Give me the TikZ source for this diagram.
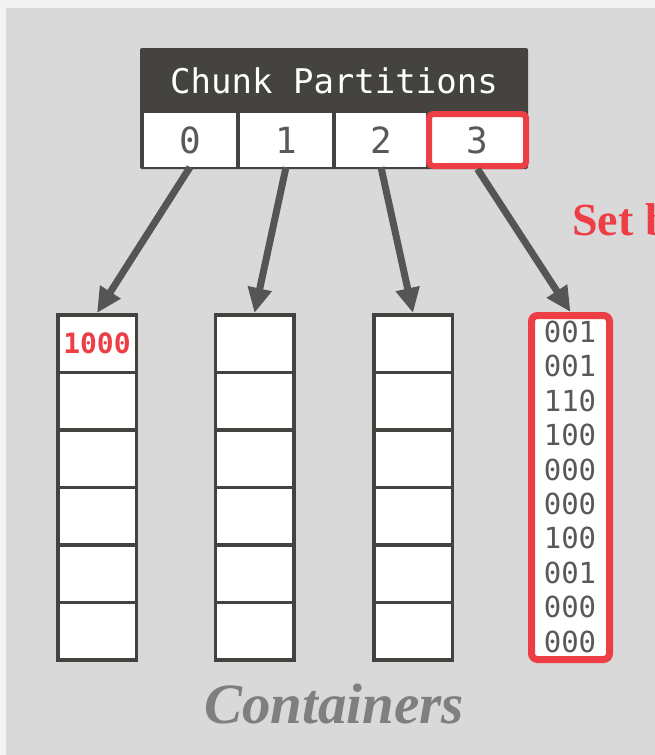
\documentclass[tikz,border=0pt]{standalone}
\usepackage{fontspec}
\setmainfont{Liberation Serif}
\setmonofont{DejaVu Sans Mono}
\usetikzlibrary{arrows.meta}
\definecolor{outerbg}{HTML}{F3F3F3}
\definecolor{panel}{HTML}{D9D9D9}
\definecolor{dark}{HTML}{45433F}
\definecolor{txtgray}{HTML}{595959}
\definecolor{arrgray}{HTML}{555555}
\definecolor{hired}{HTML}{EE3E45}
\definecolor{capgray}{HTML}{7F7F7F}
\tikzset{
  pcell/.style={fill=white, draw=none, minimum width=92pt, minimum height=54pt, inner sep=0pt,
    text=txtgray, font=\ttfamily\fontsize{36}{40}\selectfont},
  ccell/.style={fill=white, draw=dark, line width=3.5pt, minimum width=78.5pt, minimum height=57.58pt, inner sep=0pt},
  arr/.style={draw=arrgray, line width=7pt, -{Triangle[width=23pt,length=25pt]}},
  bits/.style={text=txtgray, font=\ttfamily\fontsize{29}{34}\selectfont, inner sep=0pt}
}
\begin{document}
\begin{tikzpicture}[x=1pt,y=-1pt]
\useasboundingbox (0,0) rectangle (655,755);
\clip (0,0) rectangle (655,755);
\fill[outerbg] (0,0) rectangle (655,755);
\fill[panel] (6,8) rectangle (660,760);
% header
\path[fill=dark, rounded corners=2pt] (140,48) rectangle (528,169);
\node[text=white, font=\ttfamily\fontsize{34}{40}\selectfont] (hdr) at (334,80.5) {Chunk Partitions};
\node[pcell, minimum width=92pt] (c0) at (190,140) {0};
\node[pcell, minimum width=92pt] (c1) at (286,140) {1};
\node[pcell, minimum width=90pt] (c2) at (381,140) {2};
\node[pcell, draw=hired, line width=6pt, rounded corners=4pt, minimum width=97pt, minimum height=52pt] (c3) at (477.5,140) {3};
% containers
\foreach \cx/\nm in {97/a, 254.5/b, 413/d}{
  \foreach \i in {0,...,5}{
    \node[ccell] (\nm\i) at (\cx, 343.54+57.58*\i) {};
  }
}
\node[text=hired, font=\ttfamily\bfseries\fontsize{28}{32}\selectfont, inner sep=0pt] (t1000) at (a0.center) {1000};
% red container
\node[fill=white, draw=hired, line width=7pt, rounded corners=6pt, minimum width=78pt, minimum height=344pt, inner sep=0pt] (r) at (570.5,487.5) {};
\foreach \v [count=\k from 0] in {001,001,110,100,000,000,100,001,000,000}{
  \node[bits] (n\k) at (570, 332+34.4*\k) {\v};
}
% arrows
\draw[arr] (c0.south) -- (a0.north);
\draw[arr] (c1.south) -- (b0.north);
\draw[arr] (c2.south) -- (d0.north);
\draw[arr] (c3.south) -- (r.north);
% labels
\node[anchor=base west, text=hired, font=\bfseries\fontsize{46}{50}\selectfont, inner sep=0pt] (setb) at (572,235) {Set b};
\node[anchor=base, text=capgray, font=\bfseries\itshape\fontsize{57}{62}\selectfont, inner sep=0pt] (cont) at (334,723) {Containers};
\end{tikzpicture}
\end{document}
